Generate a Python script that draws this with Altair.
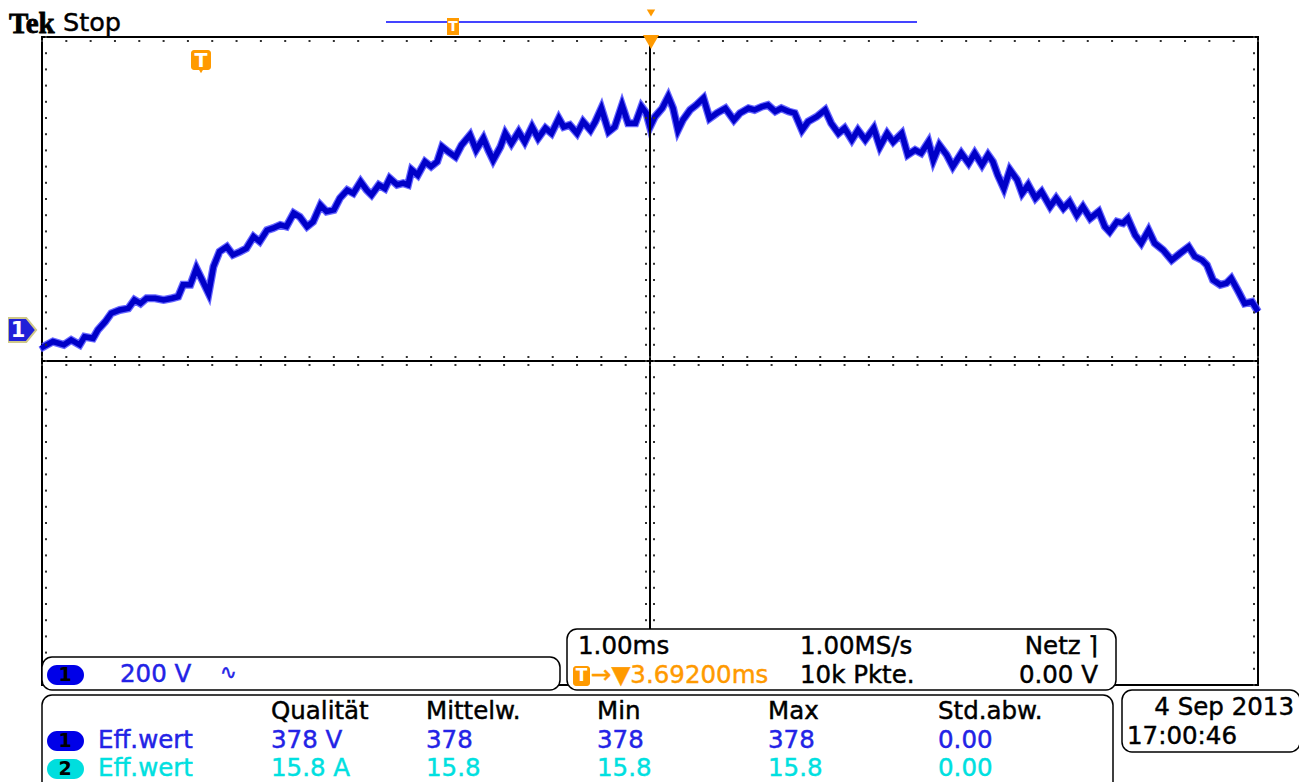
import altair as alt
import pandas as pd

# ---- trace (channel 1): time in ms (1.00 ms/div), voltage in V (200 V/div)
time_ms = [0.00, 0.01, 0.09, 0.18, 0.24, 0.31, 0.35, 0.42, 0.46, 0.52,
           0.57, 0.64, 0.71, 0.76, 0.81, 0.86, 0.93, 1.00, 1.07, 1.12,
           1.16, 1.22, 1.27, 1.33, 1.37, 1.41, 1.46, 1.52, 1.57, 1.63,
           1.68, 1.74, 1.79, 1.85, 1.90, 1.96, 2.01, 2.07, 2.12, 2.18,
           2.23, 2.29, 2.34, 2.40, 2.45, 2.51, 2.56, 2.62, 2.67, 2.71,
           2.77, 2.82, 2.86, 2.92, 2.97, 3.01, 3.04, 3.09, 3.15, 3.20,
           3.25, 3.29, 3.34, 3.40, 3.45, 3.52, 3.57, 3.63, 3.67, 3.71,
           3.77, 3.81, 3.86, 3.92, 3.97, 4.03, 4.08, 4.14, 4.19, 4.25,
           4.29, 4.34, 4.40, 4.45, 4.51, 4.55, 4.60, 4.66, 4.71, 4.77,
           4.82, 4.88, 4.93, 4.97, 5.00, 5.04, 5.10, 5.15, 5.19, 5.23,
           5.27, 5.33, 5.38, 5.44, 5.49, 5.55, 5.62, 5.69, 5.74, 5.81,
           5.86, 5.92, 5.97, 6.03, 6.08, 6.14, 6.19, 6.25, 6.30, 6.37,
           6.44, 6.49, 6.55, 6.60, 6.66, 6.71, 6.77, 6.84, 6.89, 6.95,
           7.00, 7.07, 7.12, 7.18, 7.23, 7.29, 7.33, 7.38, 7.44, 7.49,
           7.56, 7.62, 7.67, 7.73, 7.78, 7.82, 7.86, 7.91, 7.96, 8.02,
           8.06, 8.11, 8.17, 8.22, 8.29, 8.34, 8.40, 8.45, 8.51, 8.56,
           8.62, 8.69, 8.74, 8.78, 8.84, 8.89, 8.93, 8.99, 9.04, 9.10,
           9.15, 9.22, 9.29, 9.36, 9.43, 9.48, 9.54, 9.58, 9.63, 9.69,
           9.74, 9.78, 9.84, 9.89, 9.95, 10.00]
volts = [40, 35, 48, 40, 52, 40, 60, 56, 77, 97,
         118, 126, 130, 151, 142, 155, 155, 151, 155, 159,
         188, 188, 229, 192, 167, 233, 270, 282, 262, 270,
         278, 307, 295, 323, 328, 336, 332, 365, 356, 332,
         344, 385, 369, 373, 402, 422, 414, 443, 422, 410,
         435, 426, 451, 435, 439, 435, 472, 459, 492, 480,
         492, 529, 517, 504, 533, 558, 521, 550, 521, 496,
         529, 562, 537, 566, 541, 578, 550, 575, 562, 599,
         578, 583, 562, 591, 570, 591, 624, 566, 578, 632,
         587, 587, 628, 612, 578, 603, 624, 653, 624, 570,
         595, 620, 632, 649, 599, 612, 624, 595, 612, 624,
         620, 628, 632, 616, 624, 616, 612, 570, 591, 603,
         620, 587, 562, 575, 546, 570, 546, 575, 529, 562,
         541, 562, 509, 521, 513, 541, 496, 533, 509, 480,
         513, 488, 513, 484, 509, 492, 459, 426, 472, 447,
         414, 435, 402, 418, 381, 402, 377, 393, 360, 381,
         352, 369, 332, 319, 344, 340, 352, 311, 291, 323,
         291, 274, 249, 266, 282, 258, 249, 237, 200, 188,
         192, 204, 171, 142, 146, 122]

# ---- graticule
major_t = list(range(11))
major_v = [-800 + 200 * i for i in range(9)]
minor_t = [round(i * 0.2, 2) for i in range(51)]
minor_v = [-800 + 40 * i for i in range(41)]

# ---- readouts
header_labels = ["Qualität", "Mittelw.", "Min", "Max", "Std.abw."]
ch1_values = ["378 V", "378", "378", "378", "0.00"]
ch2_values = ["15.8 A", "15.8", "15.8", "15.8", "0.00"]
meas_name = "Eff.wert"
timebase_row1 = ["1.00ms", "1.00MS/s"]
timebase_row2 = ["10k Pkte."]
trigger_source = "Netz \u2309"
trigger_level = "0.00 V"
trigger_pos = "\u2192\u25bc3.69200ms"
ch1_scale = "200 V"
coupling = "\u223f"
date_str = "4 Sep  2013"
time_str = "17:00:46"

W, H = 1216, 648
FONT = "DejaVu Sans"
FS = 24.5
BLUE_TXT = "#2323e6"
CYAN = "#00e0e0"
ORANGE = "#ff9a00"

X = alt.Scale(domain=[0, 10], nice=False, zero=False)
Y = alt.Scale(domain=[-800, 800], nice=False, zero=False)
PXT = "(datum.px - 42) / 121.6"
PYV = "(361 - datum.py) * 200 / 81"


def xe(f):
    return alt.X(f + ":Q", scale=X, axis=None)


def ye(f):
    return alt.Y(f + ":Q", scale=Y, axis=None)


def boxes(x1, x2, y1, y2, **mark):
    df = pd.DataFrame({"x1": x1, "x2": x2, "y1": y1, "y2": y2})
    return alt.Chart(df).transform_calculate(
        t1="(datum.x1 - 42) / 121.6", t2="(datum.x2 - 42) / 121.6",
        v1="(361 - datum.y1) * 200 / 81", v2="(361 - datum.y2) * 200 / 81",
    ).mark_rect(**mark).encode(x=xe("t1"), x2="t2:Q", y=ye("v1"), y2="v2:Q")


def texts(labels, xs, ys, color, align="left", size=FS, font=FONT, weight="normal",
          baseline="middle", thick=0.45):
    df = pd.DataFrame({"label": labels, "px": xs, "py": ys})
    extra = {"stroke": color, "strokeWidth": thick} if thick > 0 else {}
    return alt.Chart(df).transform_calculate(t=PXT, v=PYV).mark_text(
        align=align, baseline=baseline, fontSize=size, font=font, color=color,
        fontWeight=weight, **extra,
    ).encode(x=xe("t"), y=ye("v"), text="label:N")


def points(xs, ys, **mark):
    df = pd.DataFrame({"px": xs, "py": ys})
    return alt.Chart(df).transform_calculate(t=PXT, v=PYV).mark_point(**mark).encode(
        x=xe("t"), y=ye("v"))


trace_df = pd.DataFrame({"t": time_ms, "v": volts})

halo = alt.Chart(trace_df).mark_line(color="#4b4bff", strokeWidth=8, opacity=0.85).encode(
    x=alt.X("t:Q", scale=X, axis=alt.Axis(
        values=major_t, grid=True, gridDash=[2, 14.2], gridDashOffset=1,
        gridColor="#303030", gridWidth=2, gridOpacity=1,
        domain=False, ticks=False, labels=False, title=None)),
    y=alt.Y("v:Q", scale=Y, axis=alt.Axis(
        values=major_v, grid=True, gridDash=[2, 22.32], gridDashOffset=1,
        gridColor="#303030", gridWidth=2, gridOpacity=1,
        domain=False, ticks=False, labels=False, title=None)),
)
core = alt.Chart(trace_df).mark_line(color="#0000c8", strokeWidth=5.5).encode(
    x=xe("t"), y=ye("v"))

# crosshair through the centre
cross_h = alt.Chart(pd.DataFrame({"v": [0]})).mark_rule(color="black", strokeWidth=2).encode(y=ye("v"))
cross_v = alt.Chart(pd.DataFrame({"t": [5]})).mark_rule(color="black", strokeWidth=2).encode(x=xe("t"))

# minor tick dots along border and crosshair
dt, dv = 0.033, 9.9
tick_rows = ([(t, 800 - dv) for t in minor_t] + [(t, dv) for t in minor_t] +
             [(t, -dv) for t in minor_t] + [(5 - dt, v) for v in minor_v] +
             [(5 + dt, v) for v in minor_v] + [(dt, v) for v in minor_v] +
             [(10 - dt, v) for v in minor_v])
tick_df = pd.DataFrame(tick_rows, columns=["t", "v"])
tick_dots = alt.Chart(tick_df).mark_square(size=4, color="#303030", opacity=1).encode(
    x=xe("t"), y=ye("v"))

layers = [halo, core, cross_h, cross_v, tick_dots]

# top record bar and trigger markers
layers += [
    boxes([386], [917], [21], [23], color="#4444ff"),
    boxes([447], [459], [18], [35], color=ORANGE),
    texts(["T"], [453], [27], "white", align="center", size=14, weight="bold", thick=0),
    points([651], [13], shape="triangle-down", filled=True, size=70, color=ORANGE, opacity=1),
    points([651], [42], shape="triangle-down", filled=True, size=260, color=ORANGE, opacity=1),
    boxes([191], [211], [50], [70], color=ORANGE, cornerRadius=3),
    points([201], [70], shape="triangle-down", filled=True, size=60, color=ORANGE, opacity=1),
    texts(["T"], [201], [61], "white", align="center", size=19, weight="bold", thick=0),
    points([22], [330], shape="M-1,-0.85L0.3,-0.85L1,0L0.3,0.85L-1,0.85Z", filled=True,
           size=800, fill="#2020d8", stroke="#cfc88a", strokeWidth=2, opacity=1),
    texts(["1"], [18], [331], "white", align="center", size=21, weight="bold", thick=0),
    texts(["Tek"], [9], [33], "black", size=29, font="Liberation Serif", weight="bold",
          baseline="alphabetic", thick=0.8),
    texts(["Stop"], [63], [31], "black", size=25.5, baseline="alphabetic"),
]

# bottom readout boxes
layers += [
    boxes([567], [1116], [629], [690], fill="white", stroke="black", strokeWidth=1.5, cornerRadius=10),
    boxes([42], [560], [657], [690], fill="white", stroke="black", strokeWidth=1.5, cornerRadius=10),
    boxes([42], [1113], [695], [800], fill="white", stroke="black", strokeWidth=1.5, cornerRadius=10),
    boxes([1122], [1300], [690], [752], fill="white", stroke="black", strokeWidth=1.5, cornerRadius=10),
    # channel badges
    boxes([47], [84], [665], [685], color="#0000e8", cornerRadius=10),
    boxes([47], [84], [731], [751], color="#0000e8", cornerRadius=10),
    boxes([47], [84], [759], [779], color="#00dede", cornerRadius=10),
    texts(["1", "1", "2"], [65, 65, 65], [675, 741, 769], "black", align="center", size=19,
          weight="bold", thick=0),
    texts([ch1_scale], [120], [675], BLUE_TXT),
    texts([coupling], [220], [673], BLUE_TXT, size=20),
    # timebase / trigger
    texts(timebase_row1, [578, 800], [647, 647], "black"),
    texts([trigger_source], [1098], [647], "black", align="right"),
    texts(timebase_row2, [800], [676], "black"),
    texts([trigger_level], [1098], [676], "black", align="right"),
    boxes([573], [590], [666], [686], color=ORANGE, cornerRadius=3),
    texts(["T"], [581.5], [676], "white", align="center", size=17, weight="bold", thick=0),
    texts([trigger_pos], [591], [676], ORANGE),
    # measurements
    texts(header_labels, [271, 426, 597, 768, 938], [712] * 5, "black"),
    texts([meas_name] + ch1_values, [98, 271, 426, 597, 768, 938], [741] * 6, BLUE_TXT),
    texts([meas_name] + ch2_values, [98, 271, 426, 597, 768, 938], [769] * 6, CYAN),
    # date
    texts([date_str], [1294], [708], "black", align="right"),
    texts([time_str], [1127], [737], "black"),
]

chart = alt.layer(*layers).properties(
    width=W, height=H,
    padding={"left": 34, "top": 29, "right": 41, "bottom": 97},
    autosize=alt.AutoSizeParams(type="none"),
    background="white",
).configure_view(stroke="black", strokeWidth=2)

chart.save("out.html", embed_options={"renderer": "svg", "actions": False})
